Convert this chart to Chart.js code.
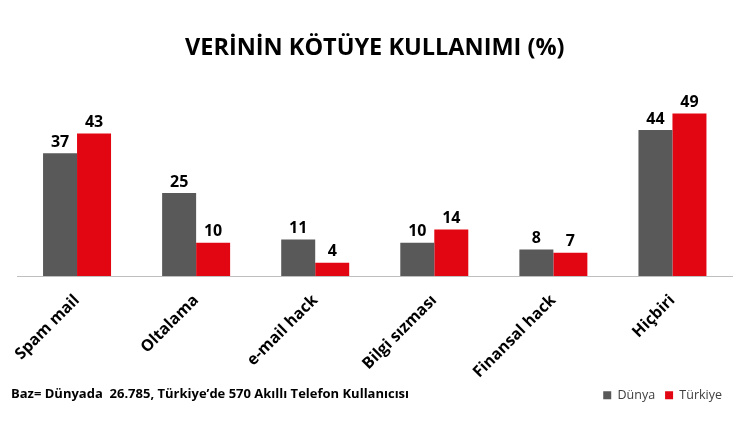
<!DOCTYPE html>
<html>
<head>
<meta charset="utf-8">
<script src="https://cdn.jsdelivr.net/npm/chart.js@4.4.0/dist/chart.umd.min.js"></script>
<style>
  html, body { margin: 0; padding: 0; background: #ffffff; }
  #wrap { width: 750px; height: 421px; position: relative; }
</style>
</head>
<body>
<div id="wrap"><canvas id="c"></canvas></div>
<script>
const categories = ['Spam mail', 'Oltalama', 'e-mail hack', 'Bilgi sızması', 'Finansal hack', 'Hiçbiri'];
const dunyaValues = [37, 25, 11, 10, 8, 44];
const turkiyeValues = [43, 10, 4, 14, 7, 49];
const seriesNames = ['Dünya', 'Türkiye'];
const titleText = 'VERİNİN KÖTÜYE KULLANIMI (%)';
const footerText = 'Baz= Dünyada  26.785, Türkiye’de 570 Akıllı Telefon Kullanıcısı';

const FONT = '"Open Sans", "DejaVu Sans", sans-serif';

const valueLabels = {
  id: 'valueLabels',
  afterDatasetsDraw(chart) {
    const ctx = chart.ctx;
    ctx.save();
    ctx.font = 'bold 16px ' + FONT;
    ctx.fillStyle = '#000000';
    ctx.textAlign = 'center';
    ctx.textBaseline = 'bottom';
    chart.data.datasets.forEach((ds, di) => {
      const meta = chart.getDatasetMeta(di);
      meta.data.forEach((bar, i) => {
        ctx.fillText(String(ds.data[i]), bar.x, bar.y - 3);
      });
    });
    ctx.restore();
  }
};

const footerNote = {
  id: 'footerNote',
  afterDraw(chart) {
    const ctx = chart.ctx;
    ctx.save();
    ctx.font = 'bold 13px ' + FONT;
    ctx.fillStyle = '#000000';
    ctx.textAlign = 'left';
    ctx.textBaseline = 'middle';
    ctx.fillText(footerText, 11, 394);
    ctx.restore();
  }
};

new Chart(document.getElementById('c'), {
  type: 'bar',
  data: {
    labels: categories,
    datasets: [
      { label: seriesNames[0], data: dunyaValues, backgroundColor: '#595959' },
      { label: seriesNames[1], data: turkiyeValues, backgroundColor: '#e20613' }
    ]
  },
  options: {
    responsive: true,
    maintainAspectRatio: false,
    animation: false,
    devicePixelRatio: 1,
    layout: { padding: { left: 17.5, right: 18, top: 0, bottom: 9.5 } },
    datasets: { bar: { barPercentage: 1, categoryPercentage: 0.571 } },
    scales: {
      x: {
        grid: { display: false },
        border: { display: true, color: '#bfbfbf', width: 1 },
        ticks: {
          color: '#000000',
          font: { family: FONT, size: 16, weight: 'bold' },
          maxRotation: 45,
          minRotation: 45,
          autoSkip: false,
          padding: 7
        },
        afterFit(scale) {
          scale.height = 103;
          scale.paddingLeft = 0;
          scale.paddingRight = 0;
        }
      },
      y: {
        display: false,
        min: 0,
        max: 50
      }
    },
    plugins: {
      title: {
        display: true,
        text: titleText,
        color: '#000000',
        font: { family: FONT, size: 23.5, weight: 'bold' },
        padding: { top: 34, bottom: 48 }
      },
      legend: {
        display: true,
        position: 'bottom',
        align: 'end',
        labels: {
          boxWidth: 8,
          boxHeight: 8,
          padding: 10,
          color: '#404040',
          font: { family: FONT, size: 12.5 }
        }
      },
      tooltip: { enabled: false }
    }
  },
  plugins: [valueLabels, footerNote]
});
</script>
</body>
</html>
